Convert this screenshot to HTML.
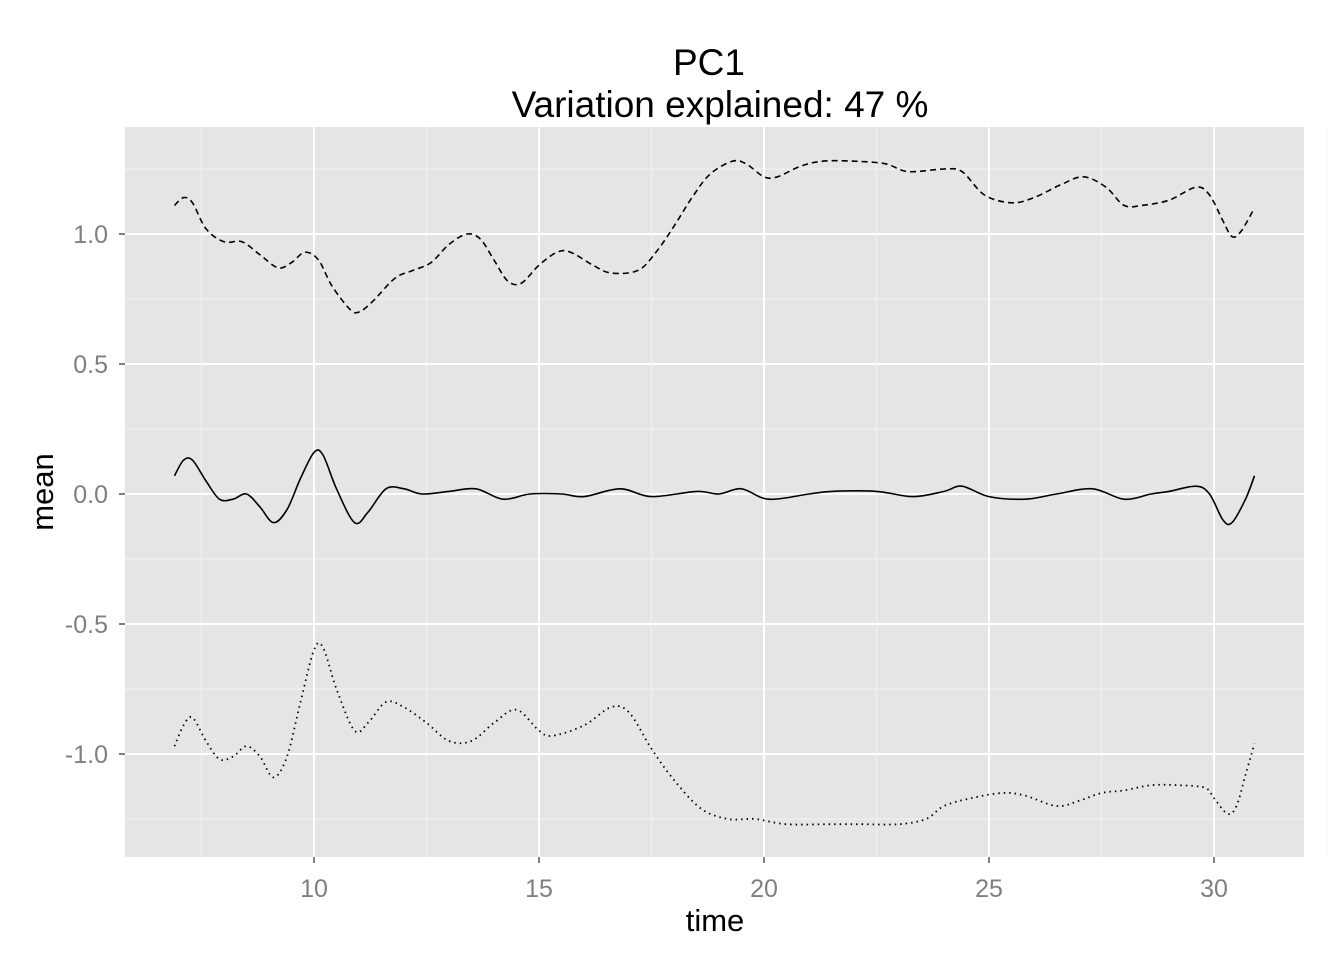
<!DOCTYPE html>
<html><head><meta charset="utf-8"><style>
body{margin:0;background:#fff;overflow:hidden}
svg{display:block}
svg text{font-family:"Liberation Sans",Arial,sans-serif}
</style></head><body>
<svg id="chart" width="1344" height="960">
<rect x="125" y="127" width="1179" height="730" fill="#e5e5e5"/>
<g id="grid"></g><g id="series"></g><g id="axes"></g>
<text x="709" y="75" text-anchor="middle" font-size="37">PC1</text>
<text x="720" y="117" text-anchor="middle" font-size="37">Variation explained: 47 %</text>
<text x="715" y="931" text-anchor="middle" font-size="31">time</text>
<text transform="translate(53,492) rotate(-90)" text-anchor="middle" font-size="31">mean</text>
</svg>
<script>
const xTicks=[10,15,20,25,30];
const yTicks=[1.0,0.5,0.0,-0.5,-1.0];
const yTickLabels=["1.0","0.5","0.0","-0.5","-1.0"];
const upperX=[6.9,7.1,7.3,7.6,8.0,8.4,8.8,9.2,9.5,9.8,10.1,10.4,10.8,11.0,11.3,11.8,12.2,12.6,13.0,13.4,13.7,14.0,14.3,14.6,15.0,15.4,15.7,16.2,16.6,17.2,17.6,18.0,18.4,18.8,19.3,19.6,20.0,20.3,20.8,21.3,22.0,22.7,23.2,24.0,24.4,24.9,25.5,26.0,26.6,27.1,27.6,28.0,28.4,29.0,29.6,29.9,30.2,30.4,30.6,30.9];
const upperY=[1.11,1.14,1.12,1.02,0.97,0.97,0.92,0.87,0.89,0.93,0.90,0.80,0.71,0.70,0.74,0.83,0.86,0.89,0.96,1.00,0.98,0.90,0.82,0.81,0.88,0.93,0.93,0.88,0.85,0.86,0.93,1.03,1.14,1.23,1.28,1.27,1.22,1.22,1.26,1.28,1.28,1.27,1.24,1.25,1.24,1.15,1.12,1.14,1.19,1.22,1.18,1.11,1.11,1.13,1.18,1.15,1.05,0.99,1.01,1.10];
const meanX=[6.9,7.1,7.3,7.6,7.9,8.2,8.5,8.8,9.1,9.4,9.7,10.0,10.2,10.5,10.9,11.2,11.6,12.0,12.4,13.0,13.6,14.2,14.8,15.5,16.0,16.8,17.5,18.5,19.0,19.5,20.1,21.0,21.5,22.5,23.3,24.0,24.4,25.0,25.8,26.5,27.3,28.0,28.6,29.0,29.6,29.9,30.2,30.4,30.7,30.9];
const meanY=[0.07,0.13,0.13,0.05,-0.02,-0.02,0.0,-0.05,-0.11,-0.06,0.06,0.16,0.15,0.02,-0.11,-0.07,0.02,0.02,0.0,0.01,0.02,-0.02,0.0,0.0,-0.01,0.02,-0.01,0.01,0.0,0.02,-0.02,0.0,0.01,0.01,-0.01,0.01,0.03,-0.01,-0.02,0.0,0.02,-0.02,0.0,0.01,0.03,0.0,-0.10,-0.11,-0.02,0.07];
const lowerX=[6.9,7.1,7.3,7.6,7.9,8.2,8.5,8.8,9.1,9.4,9.7,10.0,10.2,10.5,10.9,11.2,11.6,12.0,12.5,13.0,13.5,14.0,14.5,15.0,15.3,16.0,16.6,17.0,17.5,18.0,18.6,19.2,19.8,20.5,21.5,22.2,23.0,23.6,24.0,24.6,25.3,25.8,26.5,27.0,27.5,28.0,28.6,29.2,29.8,30.0,30.3,30.5,30.7,30.9];
const lowerY=[-0.97,-0.89,-0.86,-0.95,-1.02,-1.01,-0.97,-1.01,-1.09,-1.01,-0.80,-0.60,-0.59,-0.75,-0.91,-0.88,-0.80,-0.82,-0.88,-0.95,-0.95,-0.88,-0.83,-0.91,-0.93,-0.89,-0.82,-0.84,-0.98,-1.10,-1.21,-1.25,-1.25,-1.27,-1.27,-1.27,-1.27,-1.25,-1.20,-1.17,-1.15,-1.16,-1.20,-1.18,-1.15,-1.14,-1.12,-1.12,-1.13,-1.17,-1.23,-1.20,-1.08,-0.96];
const sx=v=>314+(v-10)*45, sy=v=>494-v*260;
const NS="http://www.w3.org/2000/svg";
function mk(p,t,a){const e=document.createElementNS(NS,t);for(const k in a)e.setAttribute(k,a[k]);p.appendChild(e);return e;}
const grid=document.getElementById('grid'),axes=document.getElementById('axes'),ser=document.getElementById('series');
for(let i=0;i<=xTicks.length;i++){const v=xTicks[0]-2.5+i*5;const l=mk(grid,'line',{x1:sx(v),x2:sx(v),y1:127,y2:857,stroke:'#f2f2f2','stroke-width':1});

}
for(let i=0;i<yTicks.length+1;i++){const v=1.25-i*0.5;const l=mk(grid,'line',{x1:125,x2:1304,y1:sy(v),y2:sy(v),stroke:'#f2f2f2','stroke-width':1});

}
xTicks.forEach(v=>{const l=mk(grid,'line',{x1:sx(v),x2:sx(v),y1:127,y2:857,stroke:'#fff','stroke-width':2});


const t=mk(axes,'line',{x1:sx(v),x2:sx(v),y1:857,y2:863,stroke:'#7f7f7f','stroke-width':2});


const tx=mk(axes,'text',{x:sx(v),y:897,'text-anchor':'middle','font-size':25,fill:'#7f7f7f'});tx.textContent=v;

});
yTicks.forEach((v,i)=>{const l=mk(grid,'line',{x1:125,x2:1304,y1:sy(v),y2:sy(v),stroke:'#fff','stroke-width':2});


const t=mk(axes,'line',{x1:119,x2:125,y1:sy(v),y2:sy(v),stroke:'#7f7f7f','stroke-width':2});


const tx=mk(axes,'text',{x:108,y:sy(v)+9,'text-anchor':'end','font-size':25,fill:'#7f7f7f'});tx.textContent=yTickLabels[i];

});
function path(xs,ys){const p=xs.map((x,i)=>[sx(x),sy(ys[i])]);let d='M'+p[0][0]+','+p[0][1];
for(let i=0;i<p.length-1;i++){const a=p[Math.max(0,i-1)],b=p[i],c=p[i+1],e=p[Math.min(p.length-1,i+2)];
d+=` C${b[0]+(c[0]-a[0])/6},${b[1]+(c[1]-a[1])/6} ${c[0]-(e[0]-b[0])/6},${c[1]-(e[1]-b[1])/6} ${c[0]},${c[1]}`;}return d;}
const s1=mk(ser,'path',{d:path(upperX,upperY),fill:'none',stroke:'#000','stroke-width':1.6,'stroke-dasharray':'6,4'});


const s2=mk(ser,'path',{d:path(meanX,meanY),fill:'none',stroke:'#000','stroke-width':1.6});


const s3=mk(ser,'path',{d:path(lowerX,lowerY),fill:'none',stroke:'#000','stroke-width':1.8,'stroke-dasharray':'1.5,4'});


</script>
</body></html>
